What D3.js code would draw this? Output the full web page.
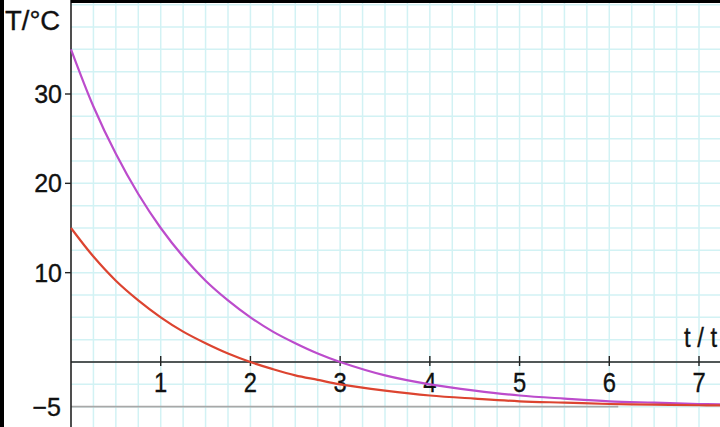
<!DOCTYPE html>
<html>
<head>
<meta charset="utf-8">
<script src="https://cdn.jsdelivr.net/npm/d3@7/dist/d3.min.js"></script>
<style>
  html, body { margin: 0; padding: 0; background: #fff; }
  svg { display: block; font-family: "Liberation Sans", Arial, sans-serif; }
  text { stroke: #111; stroke-width: 0.35px; }
</style>
</head>
<body>
<div id="chart"></div>
<script>
// ---- data ----
const times = [0, 0.25, 0.5, 0.75, 1, 1.25, 1.5, 1.75, 2, 2.25, 2.5, 2.75, 3, 3.5, 4, 4.5, 5, 5.5, 6, 6.5, 7, 7.25];
const redTemps = [15, 11.8, 9.1, 6.9, 5, 3.4, 2.1, 0.95, 0, -0.8, -1.5, -2.0, -2.5, -3.2, -3.75, -4.1, -4.4, -4.55, -4.7, -4.78, -4.84, -4.86];
const purpleTemps = [35, 28.6, 23.3, 18.8, 15, 11.8, 9.1, 6.9, 5, 3.4, 2.1, 0.95, 0, -1.5, -2.5, -3.2, -3.75, -4.1, -4.4, -4.55, -4.7, -4.75];
const xTicks = [1, 2, 3, 4, 5, 6, 7];
const yTicks = [30, 20, 10];
const yTickLabels = ["30", "20", "10"];
const asymptoteValue = -5;
const asymptoteLabel = "\u22125";
const asymptoteEnd = 6.1;
const xAxisLabel = "t / t";
const yAxisLabel = "T/\u00b0C";

const W = 720, H = 427;
const svg = d3.select("#chart").append("svg").attr("width", W).attr("height", H);

const x = d3.scaleLinear().domain([0, 7]).range([71, 699]);
const y = d3.scaleLinear().domain([0, 30]).range([362, 94]);

// grid
const gridG = svg.append("g");
const xMax = x.invert(W), yTop = y.invert(0), yBot = y.invert(H);
const vLines = d3.range(0.25, xMax, 0.25);
const hLines = d3.range(Math.ceil(yBot / 2.5) * 2.5, yTop, 2.5);
gridG.selectAll("line.v").data(vLines).join("line")
  .attr("x1", d => x(d)).attr("x2", d => x(d)).attr("y1", 0).attr("y2", H)
  .attr("stroke", "#d2f2f4").attr("stroke-width", 1.5);
gridG.selectAll("line.h").data(hLines).join("line")
  .attr("x1", x(0)).attr("x2", W).attr("y1", d => y(d)).attr("y2", d => y(d))
  .attr("stroke", "#d2f2f4").attr("stroke-width", 1.5);

// asymptote line
svg.append("line")
  .attr("x1", x(0)).attr("x2", x(asymptoteEnd))
  .attr("y1", y(asymptoteValue)).attr("y2", y(asymptoteValue))
  .attr("stroke", "#a8a8a8").attr("stroke-width", 1.6);

// axes
svg.append("line").attr("x1", x(0)).attr("x2", x(0)).attr("y1", 0).attr("y2", H)
  .attr("stroke", "#222").attr("stroke-width", 1.6);
svg.append("line").attr("x1", x(0)).attr("x2", W).attr("y1", y(0)).attr("y2", y(0))
  .attr("stroke", "#222").attr("stroke-width", 1.6);

// x ticks
svg.selectAll("line.xt").data(xTicks).join("line")
  .attr("x1", d => x(d)).attr("x2", d => x(d)).attr("y1", y(0) - 6).attr("y2", y(0) + 4)
  .attr("stroke", "#222").attr("stroke-width", 1.4);
svg.selectAll("text.xl").data(xTicks).join("text")
  .attr("transform", d => `translate(${x(d)},${y(0) + 30}) scale(0.85,1)`)
  .attr("text-anchor", "middle").attr("font-size", 28).attr("fill", "#111")
  .text(d => d);

// y ticks
svg.selectAll("line.yt").data(yTicks).join("line")
  .attr("x1", x(0) - 6).attr("x2", x(0)).attr("y1", d => y(d)).attr("y2", d => y(d))
  .attr("stroke", "#222").attr("stroke-width", 1.4);
svg.selectAll("text.yl").data(yTicks).join("text")
  .attr("transform", (d, i) => `translate(${x(0) - 9},${y(d) + 9}) scale(1,1)`)
  .attr("text-anchor", "end").attr("font-size", 25).attr("fill", "#111")
  .text((d, i) => yTickLabels[i]);
svg.append("text")
  .attr("transform", `translate(${x(0) - 10},${y(asymptoteValue) + 9}) scale(1,1)`)
  .attr("text-anchor", "end").attr("font-size", 25).attr("fill", "#111")
  .text(asymptoteLabel);

// axis labels
svg.append("text")
  .attr("transform", `translate(5,30) scale(0.98,1)`)
  .attr("font-size", 28).attr("fill", "#111").text(yAxisLabel);
svg.append("text")
  .attr("transform", `translate(684,347) scale(0.88,1)`)
  .attr("font-size", 27).attr("fill", "#111").text(xAxisLabel);

// curves
const line = d3.line().x(d => x(d[0])).y(d => y(d[1])).curve(d3.curveCatmullRom.alpha(0.5));
svg.append("path").datum(times.map((t, i) => [t, purpleTemps[i]]))
  .attr("d", line).attr("fill", "none").attr("stroke", "#bc4ccc").attr("stroke-width", 2.2);
svg.append("path").datum(times.map((t, i) => [t, redTemps[i]]))
  .attr("d", line).attr("fill", "none").attr("stroke", "#dc4430").attr("stroke-width", 2.2);

// frame bars
svg.append("rect").attr("x", 0).attr("y", 0).attr("width", 4).attr("height", H).attr("fill", "#000");
svg.append("rect").attr("x", x(0)).attr("y", 0).attr("width", W - x(0)).attr("height", 3).attr("fill", "#000");
</script>
</body>
</html>
